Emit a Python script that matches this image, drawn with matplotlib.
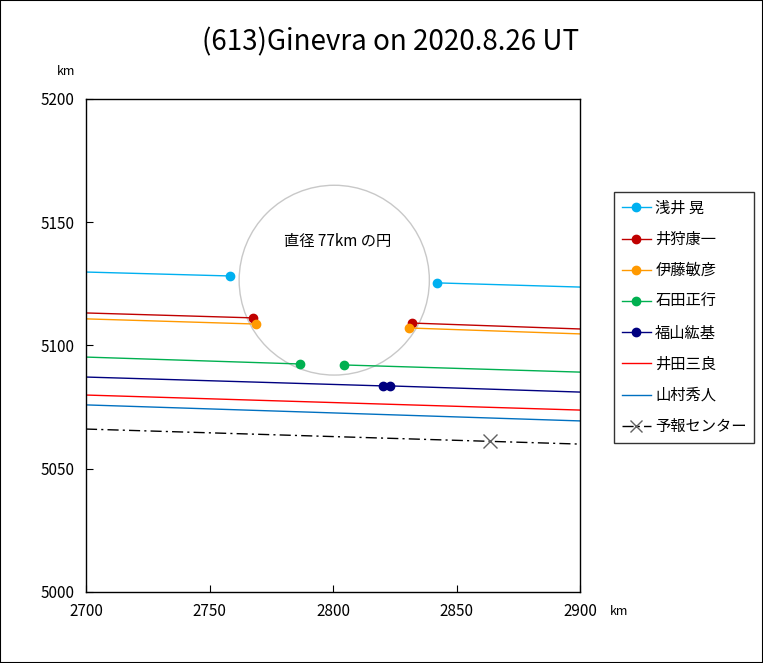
import matplotlib
matplotlib.use("Agg")
import matplotlib.pyplot as plt
from matplotlib.patches import Circle, Rectangle

plt.rcParams['font.family'] = ['Noto Sans CJK JP', 'DejaVu Sans']

# observer chords: (x, y) of line ends and events, km
asai_x1 = [2700, 2758.3]
asai_y1 = [5129.8, 5128.2]
asai_x2 = [2842.1, 2900]
asai_y2 = [5125.4, 5123.7]

ikari_x1 = [2700, 2767.6]
ikari_y1 = [5113.2, 5111.2]
ikari_x2 = [2832.0, 2900]
ikari_y2 = [5109.1, 5106.7]

ito_x1 = [2700, 2768.8]
ito_y1 = [5110.8, 5108.7]
ito_x2 = [2830.8, 2900]
ito_y2 = [5107.1, 5104.7]

ishida_x1 = [2700, 2786.6]
ishida_y1 = [5095.3, 5092.5]
ishida_x2 = [2804.5, 2900]
ishida_y2 = [5092.1, 5089.2]

fukuyama_x1 = [2700, 2820.2]
fukuyama_y1 = [5087.2, 5083.6]
fukuyama_x2 = [2823.1, 2900]
fukuyama_y2 = [5083.6, 5081.1]

ida_x = [2700, 2900]
ida_y = [5079.9, 5073.8]

yamamura_x = [2700, 2900]
yamamura_y = [5075.9, 5069.4]

pred_x = [2700, 2900]
pred_y = [5066.1, 5060.0]
center_x = 2863.6
center_y = 5061.3

circle_x = 2800.5
circle_y = 5126.5
circle_d = 77

names = ["浅井 晃", "井狩康一", "伊藤敏彦", "石田正行", "福山紘基", "井田三良", "山村秀人", "予報センター"]
colors = ["#00B0F0", "#C00000", "#FF9900", "#00B050", "#000080", "#FF0000", "#0070C0", "black"]


def main():
    fig = plt.figure(figsize=(7.63, 6.63), dpi=100)
    fig.patches.append(Rectangle((0, 0), 1, 1, transform=fig.transFigure,
                                 fill=False, edgecolor="black", lw=1.5))
    ax = fig.add_axes([0.1127, 0.1071, 0.6475, 0.7436])

    ax.add_patch(Circle((circle_x, circle_y), circle_d / 2, fill=False,
                        edgecolor="#C8C8C8", lw=1))
    ax.text(circle_x + 1.5, 5142, "直径 77km の円", ha="center", va="center", fontsize=11)

    chords = [
        (asai_x1, asai_y1, asai_x2, asai_y2),
        (ikari_x1, ikari_y1, ikari_x2, ikari_y2),
        (ito_x1, ito_y1, ito_x2, ito_y2),
        (ishida_x1, ishida_y1, ishida_x2, ishida_y2),
        (fukuyama_x1, fukuyama_y1, fukuyama_x2, fukuyama_y2),
    ]
    for i, (x1, y1, x2, y2) in enumerate(chords):
        c = colors[i]
        ax.plot(x1, y1, color=c, lw=1, label=names[i], marker="o",
                markersize=6, markevery=[1])
        ax.plot(x2, y2, color=c, lw=1, marker="o", markersize=6, markevery=[0])

    ax.plot(ida_x, ida_y, color=colors[5], lw=1, label=names[5])
    ax.plot(yamamura_x, yamamura_y, color=colors[6], lw=1, label=names[6])
    ax.plot(pred_x, pred_y, color="black", lw=1, linestyle=(0, (8, 3, 1.5, 3)))
    ax.plot([center_x], [center_y], linestyle="none", marker="x",
            markersize=10, color="#606060", markeredgewidth=1)
    # legend handle for prediction
    ax.plot([], [], color="black", lw=1, linestyle=(0, (8, 3, 1.5, 3)),
            marker="x", markersize=9, markeredgecolor="#606060", label=names[7])

    ax.set_xlim(2700, 2900)
    ax.set_ylim(5000, 5200)
    ax.set_xticks([2700, 2750, 2800, 2850, 2900])
    ax.set_yticks([5000, 5050, 5100, 5150, 5200])
    ax.tick_params(direction="in", length=5, labelsize=11, pad=8)
    for s in ax.spines.values():
        s.set_linewidth(1)

    fig.text(0.512, 0.936, "(613)Ginevra on 2020.8.26 UT", ha="center", va="center", fontsize=20)
    fig.text(0.087, 0.892, "km", ha="center", va="center", fontsize=9)
    fig.text(0.812, 0.077, "km", ha="center", va="center", fontsize=9)

    leg = fig.legend(loc="upper left", bbox_to_anchor=(0.8047, 0.7104), fontsize=11,
                     frameon=True, fancybox=False, edgecolor="black",
                     handlelength=1.9, labelspacing=0.93, numpoints=1,
                     borderpad=0.5, handletextpad=0.3, borderaxespad=0)
    leg.get_frame().set_linewidth(1)

    fig.savefig("out.png", dpi=100)


if __name__ == "__main__":
    main()
